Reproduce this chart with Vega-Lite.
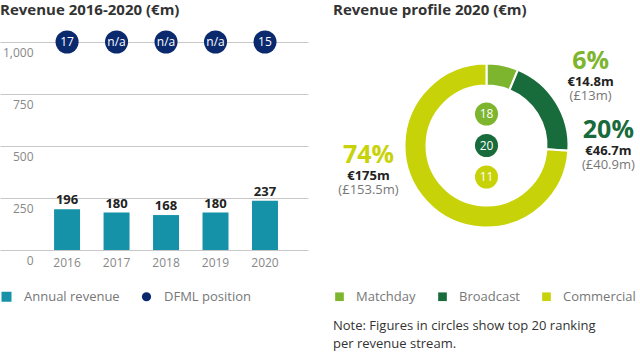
{
  "$schema": "https://vega.github.io/schema/vega-lite/v6.json",
  "padding": {"top": 3, "left": 0, "right": 0, "bottom": 0},
  "background": "white",
  "bounds": "flush",
  "spacing": 25,
  "config": {
    "font": "Open Sans",
    "view": {"stroke": null},
    "title": {"anchor": "start", "fontSize": 15, "fontWeight": "bold", "color": "#333333", "font": "Open Sans"}
  },
  "resolve": {"scale": {"color": "independent"}, "legend": {"color": "independent"}},
  "hconcat": [
    {
      "width": 308,
      "height": 208,
      "title": {"text": "Revenue 2016-2020 (€m)", "offset": 12},
      "data": {"values": [
        {"year": "2016", "revenue": 196, "dfml": "17"},
        {"year": "2017", "revenue": 180, "dfml": "n/a"},
        {"year": "2018", "revenue": 168, "dfml": "n/a"},
        {"year": "2019", "revenue": 180, "dfml": "n/a"},
        {"year": "2020", "revenue": 237, "dfml": "15"}
      ]},
      "encoding": {
        "x": {
          "field": "year", "type": "ordinal",
          "scale": {"paddingInner": 0.475, "paddingOuter": 0.85, "align": 0.643},
          "axis": {"title": null, "domain": false, "ticks": false, "labelAngle": 0, "labelPadding": 7, "labelColor": "#888888", "labelFontSize": 12, "grid": false}
        }
      },
      "layer": [
        {
          "mark": {"type": "bar"},
          "encoding": {
            "y": {
              "field": "revenue", "type": "quantitative",
              "scale": {"domain": [0, 1000], "nice": false},
              "axis": {"title": null, "values": [0, 250, 500, 750, 1000], "format": ",d", "grid": true, "gridColor": "#c8c8c8", "gridWidth": 1, "domain": false, "ticks": false, "labelAlign": "right", "labelBaseline": "top", "labelPadding": -33, "labelOffset": 5, "labelColor": "#888888", "labelFontSize": 12}
            },
            "color": {
              "datum": "Annual revenue",
              "scale": {"domain": ["Annual revenue", "DFML position"], "range": ["#1591a8", "#0b2a6e"]},
              "legend": {
                "title": null, "orient": "bottom", "direction": "horizontal", "offset": 22,
                "labelFontSize": 13, "labelColor": "#777777", "labelFont": "Open Sans",
                "symbolSize": 100, "columnPadding": 20, "labelOffset": 11, "symbolStrokeWidth": 0,
                "encode": {"symbols": {"update": {"shape": {"signal": "datum.value === 'DFML position' ? 'circle' : 'square'"}, "size": {"signal": "datum.value === 'DFML position' ? 85 : 100"}}}}
              }
            }
          }
        },
        {
          "mark": {"type": "text", "fontWeight": "bold", "fontSize": 13, "color": "#222222", "baseline": "alphabetic", "dy": -5},
          "encoding": {
            "y": {"field": "revenue", "type": "quantitative"},
            "text": {"field": "revenue", "type": "quantitative"}
          }
        },
        {
          "mark": {"type": "point", "filled": true, "opacity": 1, "size": 531},
          "encoding": {
            "y": {"datum": 1000, "type": "quantitative"},
            "color": {"datum": "DFML position"}
          }
        },
        {
          "mark": {"type": "text", "fontSize": 12, "color": "white", "baseline": "middle"},
          "encoding": {
            "y": {"datum": 1000, "type": "quantitative"},
            "text": {"field": "dfml", "type": "nominal"}
          }
        }
      ]
    },
    {
      "width": 307,
      "height": 207,
      "title": {"text": "Revenue profile 2020 (€m)", "offset": 24},
      "data": {"values": [
        {"stream": "Matchday", "value": 14.8, "pct": "6%", "eur": "€14.8m", "gbp": "(£13m)", "rank": "18"},
        {"stream": "Broadcast", "value": 46.7, "pct": "20%", "eur": "€46.7m", "gbp": "(£40.9m)", "rank": "20"},
        {"stream": "Commercial", "value": 175, "pct": "74%", "eur": "€175m", "gbp": "(£153.5m)", "rank": "11"}
      ]},
      "resolve": {"scale": {"theta": "independent"}},
      "layer": [
        {
          "mark": {"type": "arc", "outerRadius": 82, "innerRadius": 60, "stroke": "white", "strokeWidth": 2},
          "encoding": {
            "theta": {"field": "value", "type": "quantitative", "stack": true},
            "order": {"field": "value", "sort": "ascending"},
            "color": {
              "field": "stream", "type": "nominal",
              "scale": {"domain": ["Matchday", "Broadcast", "Commercial"], "range": ["#7db52f", "#186b3a", "#c8d209"]},
              "legend": {
                "title": ["Note: Figures in circles show top 20 ranking", "per revenue stream."],
                "titleOrient": "bottom", "titleAnchor": "start", "titleFontSize": 13, "titleFontWeight": "normal", "titleColor": "#333333", "titleFont": "Open Sans", "titlePadding": 16, "titleLineHeight": 18, "titleLimit": 400,
                "orient": "bottom", "direction": "horizontal", "offset": 41,
                "labelFontSize": 13, "labelColor": "#777777", "labelFont": "Open Sans",
                "symbolType": "square", "symbolSize": 75, "columnPadding": 20, "labelOffset": 10, "symbolStrokeWidth": 0,
                "encode": {"symbols": {"update": {"shape": {"value": "square"}, "size": {"value": 75}}}}
              }
            }
          }
        },
        {
          "mark": {"type": "text", "radius": 122, "fontSize": 25, "fontWeight": "bold", "dy": -21, "baseline": "middle"},
          "encoding": {
            "theta": {"field": "value", "type": "quantitative", "stack": true, "scale": {"type": "pow", "exponent": 1.2, "nice": false, "range": [0.9261, 7.0705]}},
            "order": {"field": "value", "sort": "ascending"},
            "color": {"field": "stream", "type": "nominal"},
            "text": {"field": "pct", "type": "nominal"}
          }
        },
        {
          "mark": {"type": "text", "radius": 122, "fontSize": 13, "fontWeight": "bold", "color": "#222222", "dy": 0, "baseline": "middle"},
          "encoding": {
            "theta": {"field": "value", "type": "quantitative", "stack": true, "scale": {"type": "pow", "exponent": 1.2, "nice": false, "range": [0.9261, 7.0705]}},
            "order": {"field": "value", "sort": "ascending"},
            "text": {"field": "eur", "type": "nominal"}
          }
        },
        {
          "mark": {"type": "text", "radius": 122, "fontSize": 13, "color": "#777777", "dy": 14, "baseline": "middle"},
          "encoding": {
            "theta": {"field": "value", "type": "quantitative", "stack": true, "scale": {"type": "pow", "exponent": 1.2, "nice": false, "range": [0.9261, 7.0705]}},
            "order": {"field": "value", "sort": "ascending"},
            "text": {"field": "gbp", "type": "nominal"}
          }
        },
        {
          "mark": {"type": "point", "filled": true, "opacity": 1, "size": 531},
          "encoding": {
            "y": {"field": "stream", "type": "ordinal", "scale": {"type": "point", "domain": ["Matchday", "Broadcast", "Commercial"], "padding": 0, "range": [72, 135]}, "axis": null},
            "color": {"field": "stream", "type": "nominal"}
          }
        },
        {
          "mark": {"type": "text", "fontSize": 12, "color": "white", "baseline": "middle"},
          "encoding": {
            "y": {"field": "stream", "type": "ordinal"},
            "text": {"field": "rank", "type": "nominal"}
          }
        }
      ]
    }
  ]
}
